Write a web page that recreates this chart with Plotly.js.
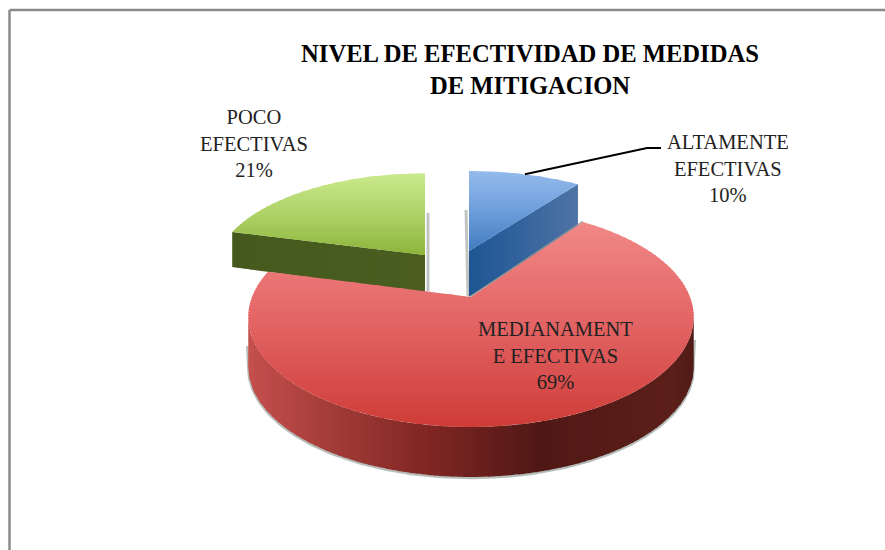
<!DOCTYPE html>
<html>
<head>
<meta charset="utf-8">
<script src="https://cdn.plot.ly/plotly-3.0.1.min.js"></script>
<style>html,body{margin:0;padding:0;background:#fff}#c{width:885px;height:550px}</style>
</head>
<body>
<div id="c"></div>
<script>
// ---- data ----
var categories = ["ALTAMENTE EFECTIVAS", "MEDIANAMENTE EFECTIVAS", "POCO EFECTIVAS"];
var values = [10, 69, 21];
var labelLines = ["ALTAMENTE<br>EFECTIVAS", "MEDIANAMENT<br>E EFECTIVAS", "POCO<br>EFECTIVAS"];
var titleText = "NIVEL DE EFECTIVIDAD DE MEDIDAS<br>DE MITIGACION";

// ---- projection of each exploded slice (3-D pie drawn on a page-sized cartesian plot) ----
var persp = 0.182, baseRx = 219, baseRy = 106.3;
var apexX = [469, 471, 425], apexY = [251, 297, 255];
var scaleX = [0.97, 1, 0.95], scaleY = [0.89, 1, 0.91];
var depth = [46, 50, 38];
var drawOrder = [2, 0, 1];
var labelX = [728, 555, 254], labelY = [168, 355, 143];

// colour ramps: [pixel position, hex]
var topRamps = [
  [[171,"#94bbec"],[210,"#6f9fdc"],[251,"#3f7cc0"]],
  [[207,"#f28e8c"],[300,"#e76c6c"],[370,"#da5252"],[427,"#cf3c36"]],
  [[173,"#cbea8e"],[215,"#aed166"],[255,"#8cb43a"]]
];
var faceRamps = [
  [[470,"#1e5693"],[520,"#33639c"],[578,"#4f74a6"]],
  null,
  [[233,"#45591e"],[425,"#4b5e20"]]
];
var wallRamp = [[250,"#c44f4d"],[333,"#a23b37"],[433,"#7e2522"],[540,"#501815"],[673,"#5c1f1a"],[695,"#4f1a16"]];

function hex(c){return [parseInt(c.substr(1,2),16),parseInt(c.substr(3,2),16),parseInt(c.substr(5,2),16)];}
function ramp(r,v){
  if(v<=r[0][0])return r[0][1];
  for(var i=1;i<r.length;i++){
    if(v<=r[i][0]){
      var t=(v-r[i-1][0])/(r[i][0]-r[i-1][0]),a=hex(r[i-1][1]),b=hex(r[i][1]);
      return "rgb("+Math.round(a[0]+(b[0]-a[0])*t)+","+Math.round(a[1]+(b[1]-a[1])*t)+","+Math.round(a[2]+(b[2]-a[2])*t)+")";
    }
  }
  return r[r.length-1][1];
}
function pt(i,deg){
  var th=deg*Math.PI/180,X=Math.sin(th),Y=Math.cos(th),s=1/(1+persp*Y);
  return [apexX[i]+baseRx*scaleX[i]*X*s, apexY[i]-baseRy*scaleY[i]*Y*s];
}
function arc(i,a,b){var o=[],n=Math.max(8,Math.ceil(Math.abs(b-a)));for(var k=0;k<=n;k++)o.push(pt(i,a+(b-a)*k/n));return o;}
function clipHalf(p,ax,lim,keepBelow){
  var o=[];
  for(var k=0;k<p.length;k++){
    var a=p[k],b=p[(k+1)%p.length];
    var ia=keepBelow?a[ax]<=lim:a[ax]>=lim, ib=keepBelow?b[ax]<=lim:b[ax]>=lim;
    if(ia)o.push(a);
    if(ia!==ib){var t=(lim-a[ax])/(b[ax]-a[ax]);o.push([a[0]+(b[0]-a[0])*t,a[1]+(b[1]-a[1])*t]);}
  }
  return o;
}
function bands(traces,poly,ax,step,r){
  var vs=poly.map(function(p){return p[ax];}),lo=Math.floor(Math.min.apply(null,vs)),hi=Math.max.apply(null,vs);
  for(var v=lo;v<hi;v+=step){
    var c=clipHalf(clipHalf(poly,ax,v,false),ax,v+step+1,true);
    if(c.length<3)continue;
    c.push(c[0]);
    traces.push({type:"scatter",mode:"lines",x:c.map(function(q){return q[0];}),y:c.map(function(q){return q[1];}),
      fill:"toself",fillcolor:ramp(r,v+step/2),line:{width:0,color:"rgba(0,0,0,0)"},hoverinfo:"skip",showlegend:false});
  }
}
function edge(traces,pts,color,w){
  traces.push({type:"scatter",mode:"lines",x:pts.map(function(q){return q[0];}),y:pts.map(function(q){return q[1];}),
    line:{color:color,width:w},hoverinfo:"skip",showlegend:false});
}

var total = values.reduce(function(a,b){return a+b;},0);
var starts = [], cum = 0;
values.forEach(function(v){starts.push(cum/total*360);cum+=v;});
var traces = [];
var silR = Math.acos(-persp)*180/Math.PI, silL = 360-silR;

drawOrder.forEach(function(i){
  var a=starts[i],b=a+values[i]/total*360,d=depth[i],ap=[apexX[i],apexY[i]];
  if(i===0){ // soft shadow at the left of the blue slice
    edge(traces,[[apexX[0]-3,210],[apexX[0]-1,apexY[0]+45]],"rgba(120,125,125,0.45)",3);
  }
  if(i===2){ // soft shadow at the right of the green slice
    edge(traces,[[apexX[2]+3,213],[apexX[2]+3,apexY[2]+36]],"rgba(120,125,125,0.45)",3);
  }
  if(i===1){ // shadow under the big slice's wall, and gap line beside the blue slice
    var wf=Math.max(a,silR),wt=Math.min(b,silL);
    var low=arc(i,wf,wt).map(function(p){return [p[0],p[1]+d+1];});
    low.unshift([low[0][0]+1,low[0][1]-28]);
    low.push([low[low.length-1][0]-1,low[low.length-1][1]-22]);
    edge(traces,low,"rgba(110,125,120,0.5)",2.5);
    edge(traces,[pt(i,a),ap],"rgba(150,150,150,0.8)",3);
  }
  // radial cut face: blue shows its closing edge, green its opening edge
  if(i!==1){
    var c=pt(i,i===0?b:a);
    var face=[ap,c,[c[0],c[1]+d-3],[ap[0],ap[1]+d]];
    bands(traces,face,0,6,faceRamps[i]);
  }
  // outer wall
  if(i===1){
    var f=Math.max(a,silR),t=Math.min(b,silL);
    var up=arc(i,f,t),dn=up.slice().reverse().map(function(p){return [p[0],p[1]+d];});
    bands(traces,up.concat(dn),0,6,wallRamp);
  }
  // top surface
  bands(traces,[ap].concat(arc(i,a,b)),1,3,topRamps[i]);
});

// leader line from the middle of the blue slice's rim to its label
var rim = pt(0,starts[0]+values[0]/total*180);
traces.push({type:"scatter",mode:"lines",x:[rim[0],labelX[0]-81,labelX[0]-67],y:[rim[1],148,148],
  line:{color:"#000",width:2},hoverinfo:"skip",showlegend:false});

var annotations = categories.map(function(c,i){
  return {xref:"x",yref:"y",x:labelX[i],y:labelY[i],xanchor:"center",yanchor:"middle",align:"center",showarrow:false,
    text:labelLines[i]+"<br>"+Math.round(values[i]/total*100)+"%",
    font:{family:"'Liberation Serif',serif",size:20.5,color:"#222"}};
});

var layout = {
  width:885,height:550,
  margin:{l:0,r:0,t:0,b:0},
  paper_bgcolor:"#fff",plot_bgcolor:"#fff",
  showlegend:false,
  title:{text:titleText,x:530/885,xanchor:"center",y:0.887,yanchor:"middle",
    font:{family:"'Liberation Serif',serif",size:24.6,color:"#000",weight:"bold"}},
  xaxis:{range:[0,885],visible:false,fixedrange:true},
  yaxis:{range:[550,0],visible:false,fixedrange:true},
  annotations:annotations,
  shapes:[
    {type:"line",xref:"x",yref:"y",x0:9.5,x1:885,y0:10,y1:10,line:{color:"#8a8a8a",width:2.5}},
    {type:"line",xref:"x",yref:"y",x0:9.5,x1:9.5,y0:10,y1:550,line:{color:"#8a8a8a",width:2.5}}
  ]
};
Plotly.newPlot("c",traces,layout,{displayModeBar:false,staticPlot:true});
</script>
</body>
</html>
